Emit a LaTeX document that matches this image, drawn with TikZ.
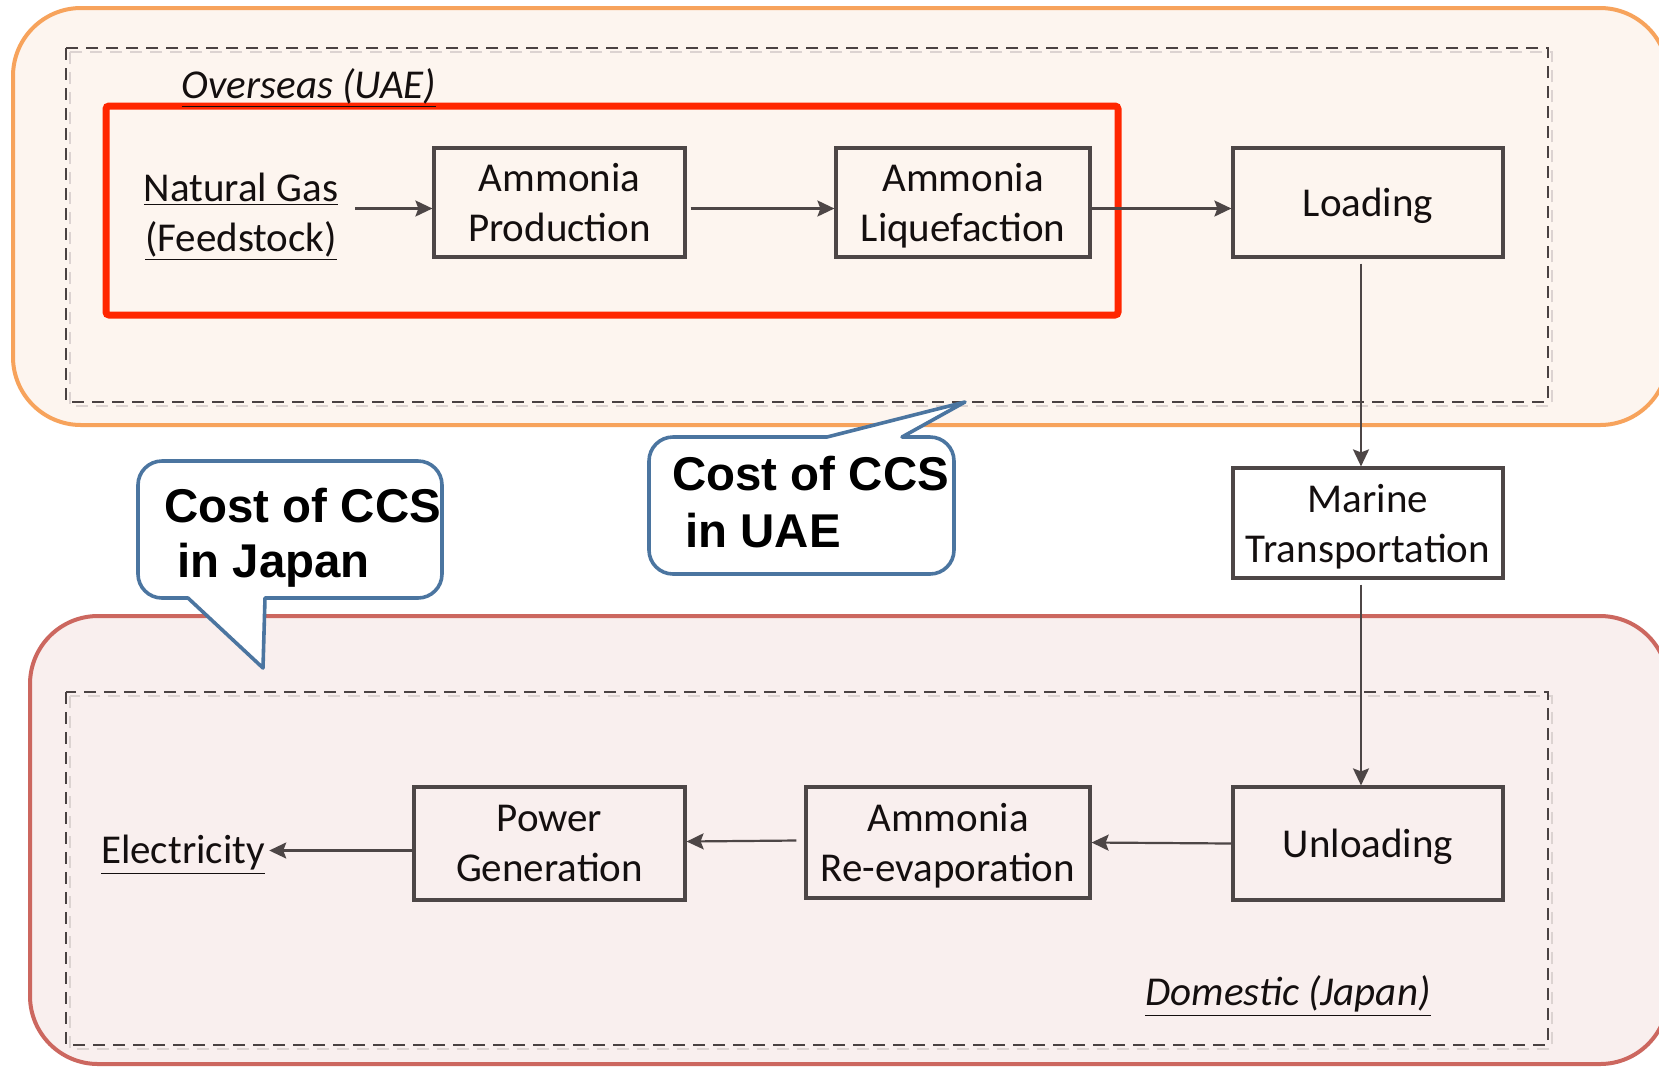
\documentclass[tikz,border=0pt]{standalone}
\usepackage{fontspec}
\setmainfont{Carlito}
\newfontfamily\calloutfont{Liberation Sans}
\usetikzlibrary{arrows.meta}
\definecolor{orangeb}{HTML}{F7A35C}
\definecolor{orangef}{HTML}{FDF5EF}
\definecolor{pinkb}{HTML}{CC675F}
\definecolor{pinkf}{HTML}{F9EFEE}
\definecolor{dashc}{HTML}{4A4242}
\definecolor{dashsh}{HTML}{DCD3D1}
\definecolor{redb}{HTML}{FF2600}
\definecolor{callb}{HTML}{4B75A0}
\definecolor{boxb}{HTML}{4D4646}
\definecolor{txtc}{HTML}{140F0F}
\begin{document}
\begin{tikzpicture}[x=0.5pt,y=-0.5pt,
  proc/.style={draw=boxb, line width=1.6pt, align=center, text=txtc,
    font=\fontsize{20.5pt}{25pt}\selectfont, inner sep=0pt, text depth=0pt},
  txt/.style={text=txtc, align=center, font=\fontsize{20.5pt}{25pt}\selectfont},
  arr/.style={draw=boxb, line width=1.1pt, -{Stealth[length=8.5pt,width=8pt,inset=1.5pt]}},
  dashmain/.style={draw=dashc, line width=1.3pt, dash pattern=on 6pt off 4pt},
  dashshadow/.style={draw=dashsh, line width=1.3pt, dash pattern=on 6pt off 4pt},
  callout/.style={draw=callb, line width=1.8pt, fill=white, line join=round},
  calltext/.style={text=black, font=\calloutfont\bfseries\fontsize{23.7pt}{28pt}\selectfont, inner sep=0pt, anchor=base west}]
\useasboundingbox (0,0) rectangle (1659,1067);
\clip (0,0) rectangle (1659,1067);
\fill[white] (0,0) rectangle (1659,1067);

% region boxes
\draw[draw=orangeb, line width=2pt, fill=orangef, rounded corners=34pt] (13,8) rectangle (1668,425);
\draw[draw=pinkb, line width=2pt, fill=pinkf, rounded corners=34pt] (30,616) rectangle (1668,1064);

\draw[dashshadow] (70,52) rectangle (1552,406);
\draw[dashmain] (66,48) rectangle (1548,402);
\draw[dashshadow] (70,696) rectangle (1552,1049);
\draw[dashmain] (66,692) rectangle (1548,1045);

\draw[draw=redb, line width=3.5pt, rounded corners=1.5pt] (106,106) rectangle (1118,315);

% labels
\node[txt] (overseas) at (309,88) {\textit{\underline{Overseas (UAE)}}};
\node[txt] (domestic) at (1288,996) {\textit{\underline{Domestic (Japan)}}};

% process nodes
\node[txt] (natgas) at (241,217) {\underline{Natural Gas}\\\underline{(Feedstock)}};
\node[proc, minimum width=125.5pt, minimum height=54.5pt] (prod) at (559.5,202.5) {Ammonia\\Production};
\node[proc, minimum width=127pt, minimum height=54.5pt] (liq) at (963,202.5) {Ammonia\\Liquefaction};
\node[proc, minimum width=135pt, minimum height=54.5pt] (load) at (1368,202.5) {Loading};
\node[proc, fill=white, minimum width=135pt, minimum height=55pt] (marine) at (1368,523) {Marine\\Transportation};
\node[proc, minimum width=135pt, minimum height=56.5pt] (unload) at (1368,843.5) {Unloading};
\node[proc, minimum width=142pt, minimum height=55.5pt] (reevap) at (948,842.5) {Ammonia\\Re-evaporation};
\node[proc, minimum width=135.5pt, minimum height=56.5pt] (power) at (549.5,843.5) {Power\\Generation};
\node[txt, inner xsep=2pt] (elec) at (183,855) {\underline{Electricity}};

% connectors
\draw[arr] ([xshift=5pt,yshift=-3pt]natgas.east |- prod.west) -- ([yshift=-3pt]prod.west);
\draw[arr] ([xshift=2pt,yshift=-3pt]prod.east) -- ([yshift=-3pt]liq.west);
\draw[arr] ([yshift=-3pt]liq.east) -- ([yshift=-3pt]load.west);
\draw[arr] ([xshift=-3.5pt,yshift=-2.5pt]load.south) -- ([xshift=-3.5pt]marine.north);
\draw[arr] ([xshift=-3.5pt,yshift=-2.5pt]marine.south) -- ([xshift=-3.5pt]unload.north);
\draw[arr] (unload.west) -- (reevap.east);
\draw[arr] ([xshift=-4pt,yshift=1pt]reevap.west) -- ([yshift=1pt]power.east);
\draw[arr] ([yshift=-3.5pt]power.west) -- ([yshift=-3.5pt]power.west -| elec.east);

% callouts
\draw[callout] (954,505) [rounded corners=12pt] -- (954,574) -- (649,574) -- (649,437) [sharp corners] -- (827,437) -- (965,402) -- (902,437) [rounded corners=12pt] -- (954,437) -- cycle;
\node[calltext] (uae1) at (672,490) {Cost of CCS};
\node[calltext] (uae2) at (685,547) {in UAE};

\draw[callout] (442,530) [rounded corners=12pt] -- (442,598) [sharp corners] -- (265,598) -- (263,668) -- (188,598) [rounded corners=12pt] -- (138,598) -- (138,461) -- (442,461) -- cycle;
\node[calltext] (jp1) at (164,522) {Cost of CCS};
\node[calltext] (jp2) at (177,577) {in Japan};
\end{tikzpicture}
\end{document}
